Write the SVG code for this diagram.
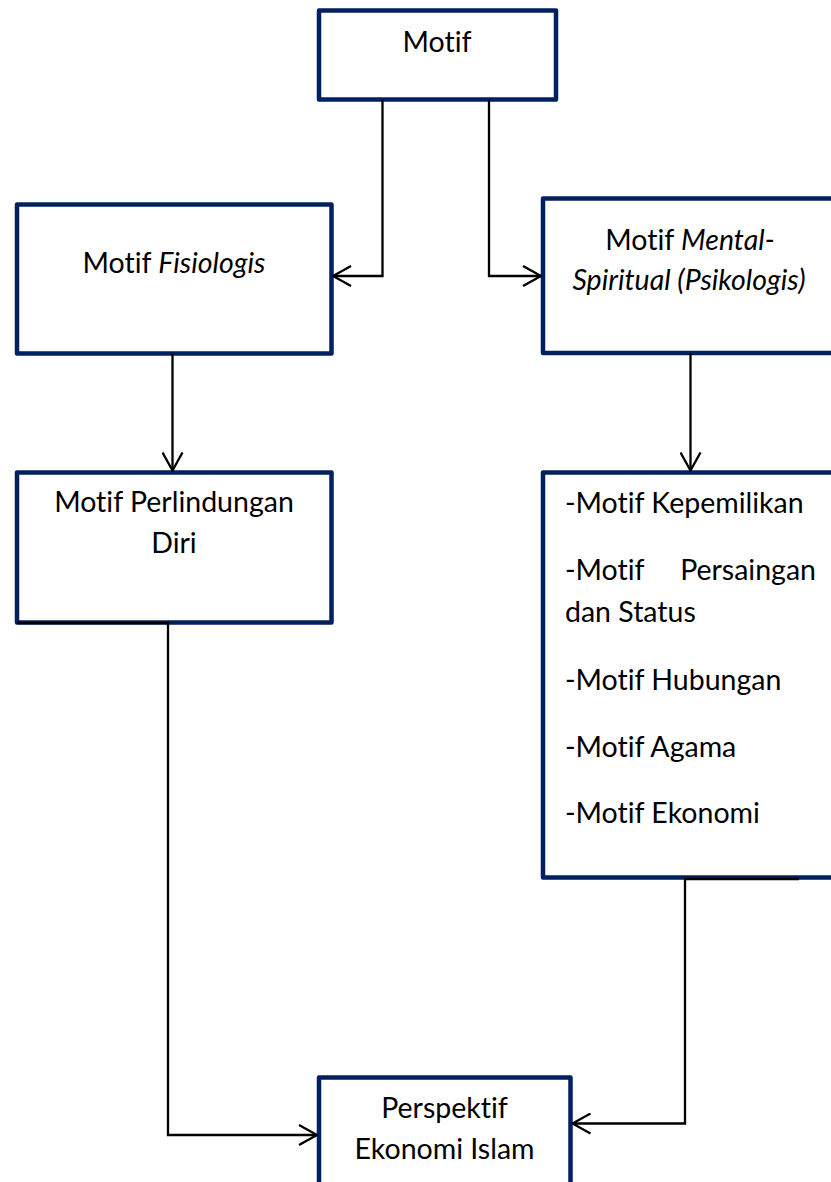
<svg xmlns="http://www.w3.org/2000/svg" width="831" height="1182" viewBox="0 0 831 1182">
<defs>
<style>
.box{fill:#ffffff;stroke:#002060;stroke-width:4.5;stroke-linejoin:round}
.t{font-family:Lato,"Open Sans","Liberation Sans",sans-serif;font-size:28.5px;fill:#000000;font-variant-ligatures:none;font-feature-settings:"liga" 0,"clig" 0}
.c{text-anchor:middle}
.i{font-style:italic}
.conn{fill:none;stroke:#000000;stroke-width:2.3}
</style>
<marker id="arr" viewBox="0 0 20 22" refX="19" refY="11" markerWidth="20" markerHeight="22" markerUnits="userSpaceOnUse" orient="auto">
<path d="M1,1 L19,11 L1,21" fill="none" stroke="#000000" stroke-width="2.3"/>
</marker>
</defs>
<rect width="831" height="1182" fill="#ffffff"/>
<g id="node-motif">
<rect class="box" x="319" y="10.5" width="237" height="89"/>
<text class="t c" x="437" y="52">Motif</text>
</g>
<g id="node-fisiologis">
<rect class="box" x="17" y="204.5" width="314.5" height="149"/>
<text class="t c" x="174" y="273">Motif <tspan class="i">Fisiologis</tspan></text>
</g>
<g id="node-mental">
<rect class="box" x="543" y="198.5" width="295" height="154.5"/>
<text class="t c" x="690" y="250">Motif <tspan class="i">Mental-</tspan></text>
<text class="t c i" x="689" y="290">Spiritual (Psikologis)</text>
</g>
<g id="node-perlindungan">
<rect class="box" x="17" y="472.5" width="314.5" height="150"/>
<text class="t c" x="174" y="512">Motif Perlindungan</text>
<text class="t c" x="174" y="553">Diri</text>
</g>
<g id="node-list">
<rect class="box" x="543" y="472.5" width="295" height="405"/>
<text class="t" x="565" y="513">-Motif Kepemilikan</text>
<text class="t" x="565" y="580">-Motif</text>
<text class="t" x="816" y="580" text-anchor="end">Persaingan</text>
<text class="t" x="565" y="622">dan Status</text>
<text class="t" x="565" y="690">-Motif Hubungan</text>
<text class="t" x="565" y="757">-Motif Agama</text>
<text class="t" x="565" y="823">-Motif Ekonomi</text>
</g>
<g id="node-perspektif">
<rect class="box" x="319" y="1077.5" width="251.5" height="120"/>
<text class="t c" x="444.5" y="1118">Perspektif</text>
<text class="t c" x="444.5" y="1159">Ekonomi Islam</text>
</g>
<g id="connectors">
<path class="conn" d="M382.5,99.5 V276 H333" marker-end="url(#arr)"/>
<path class="conn" d="M489,99.5 V276 H541" marker-end="url(#arr)"/>
<path class="conn" d="M172.5,353.5 V470.5" marker-end="url(#arr)"/>
<path class="conn" d="M690.5,353 V470.5" marker-end="url(#arr)"/>
<path class="conn" d="M17,623 H168 V1135 H317" marker-end="url(#arr)"/>
<path class="conn" d="M799,879 H685 V1123.5 H572.5" marker-end="url(#arr)"/>
</g>
</svg>
